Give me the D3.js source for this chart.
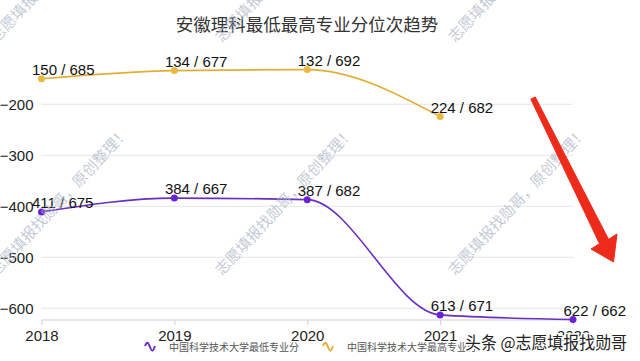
<!DOCTYPE html>
<html><head><meta charset="utf-8">
<script src="https://cdn.jsdelivr.net/npm/d3@7/dist/d3.min.js"></script>
<style>html,body{margin:0;padding:0;background:#fff;}svg{display:block;}</style>
</head><body>
<svg id="c" width="640" height="361"></svg>
<script>
const years = ["2018", "2019", "2020", "2021", "2022"];
const minRank = [411, 384, 387, 613, 622];
const minScore = [675, 667, 682, 671, 662];
const maxRank = [150, 134, 132, 224];
const maxScore = [685, 677, 692, 682];
const yTicks = [-200, -300, -400, -500, -600];
const seriesNames = ["中国科学技术大学最低专业分", "中国科学技术大学最高专业分"];
const title = "安徽理科最低最高专业分位次趋势";
const watermark = "志愿填报找勋哥，原创整理！";
const credit = "头条 @志愿填报找勋哥";

const svg = d3.select("#c");
const latin = "'Liberation Sans', Arial, sans-serif";
const cjk = "'Noto Sans CJK SC', sans-serif";

const purple = "#6a2fc2", purpleDot = "#6b22d4";
const yellow = "#e4ae36", yellowDot = "#e9b942";

const series = [
  {name: seriesNames[0], color: purple, dot: purpleDot,
   data: minRank.map((r, i) => ({year: years[i], v: -r, rank: r, score: minScore[i]}))},
  {name: seriesNames[1], color: yellow, dot: yellowDot,
   data: maxRank.map((r, i) => ({year: years[i], v: -r, rank: r, score: maxScore[i]}))}
];

const allV = series.flatMap(s => s.data.map(d => d.v));
const x = d3.scalePoint().domain(years).range([41.5, 573]);
const y = d3.scaleLinear().domain(d3.extent(allV)).range([319.5, 69.6]);

// title
svg.append("text").attr("x", 307).attr("y", 31).attr("text-anchor", "middle")
  .attr("font-family", cjk).attr("font-size", 17.5).attr("fill", "#333").text(title);

// grid
svg.append("g").selectAll("line").data(yTicks).join("line")
  .attr("x1", x.range()[0]).attr("x2", x.range()[1])
  .attr("y1", d => y(d)).attr("y2", d => y(d))
  .attr("stroke", "#e6e6e6").attr("stroke-width", 1);

// y axis
const yAxis = svg.append("g").attr("transform", "translate(41.5,0)")
  .call(d3.axisLeft(y).tickValues(yTicks).tickSize(0).tickPadding(8));
yAxis.select(".domain").remove();
yAxis.selectAll("text").attr("font-family", latin).attr("font-size", 15).attr("fill", "#222");

// x axis
const xAxis = svg.append("g").attr("transform", "translate(0,320)")
  .call(d3.axisBottom(x).tickSize(5).tickPadding(5));
xAxis.select(".domain").attr("stroke", "#cfcfcf").attr("d", `M${x.range()[0]},0H${x.range()[1]}`);
xAxis.selectAll(".tick line").attr("stroke", "#cfcfcf");
xAxis.selectAll("text").attr("font-family", latin).attr("font-size", 15).attr("fill", "#222");

// lines
const line = d3.line().x(d => x(d.year)).y(d => y(d.v)).curve(d3.curveMonotoneX);
series.forEach(s => {
  svg.append("path").datum(s.data).attr("d", line).attr("fill", "none")
    .attr("stroke", s.color).attr("stroke-width", 1.6);
  svg.append("g").selectAll("circle").data(s.data).join("circle")
    .attr("cx", d => x(d.year)).attr("cy", d => y(d.v)).attr("r", 3.5).attr("fill", s.dot);
  svg.append("g").selectAll("text").data(s.data).join("text")
    .attr("x", d => x(d.year) - 9.5).attr("y", d => y(d.v) - 4)
    .attr("font-family", latin).attr("font-size", 15).attr("fill", "#111")
    .text(d => `${d.rank} / ${d.score}`);
});

// legend
const legendX = [145, 323];
series.forEach((s, i) => {
  const lx = legendX[i], ly = 347;
  svg.append("path")
    .attr("d", `M${lx},${ly - 1} C${lx + 2},${ly - 6} ${lx + 3},${ly - 5} ${lx + 5},${ly} S${lx + 8},${ly + 5} ${lx + 10},${ly - 1}`)
    .attr("fill", "none").attr("stroke", s.color).attr("stroke-width", 2);
  svg.append("text").attr("x", lx + 24).attr("y", ly + 3.5)
    .attr("font-family", cjk).attr("font-size", 10).attr("fill", "#555").text(s.name);
});

// watermarks
const wm = svg.append("g");
[[-3, 43], [222, 43], [455, 43], [-3, 276], [222, 276], [455, 276], [108, 510], [340, 510], [570, 510]].forEach(([wx, wy]) => {
  wm.append("text").attr("transform", `translate(${wx},${wy}) rotate(-47)`)
    .attr("font-family", cjk).attr("font-size", 15).attr("fill", "#aeb7c9").attr("fill-opacity", 0.75)
    .text(watermark);
});

// red arrow
svg.append("polygon")
  .attr("points", "530.8,99.1 599.5,243.7 591,249 613.5,262 617,234 608.5,239.3 535.2,96.9")
  .attr("fill", "#ee2b1b").attr("stroke", "#ee2b1b").attr("stroke-width", 1).attr("stroke-linejoin", "round");

// credit
svg.append("text").attr("x", 465).attr("y", 349)
  .attr("font-family", cjk).attr("font-size", 17).attr("fill", "#222")
  .attr("textLength", 162).attr("lengthAdjust", "spacingAndGlyphs")
  .attr("stroke", "#fff").attr("stroke-width", 3).attr("paint-order", "stroke").attr("stroke-linejoin", "round")
  .text(credit);
</script>
</body></html>
